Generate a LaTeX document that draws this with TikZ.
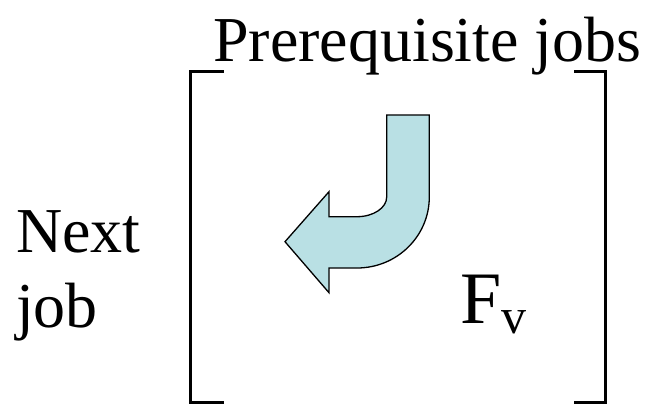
\documentclass[tikz,border=0pt]{standalone}
\usepackage{fontspec}
\setmainfont{Liberation Serif}
\usetikzlibrary{positioning}

\definecolor{arrowfill}{RGB}{185,224,228}

\begin{document}
\begin{tikzpicture}[
    x=1pt, y=-1pt,
    lbl/.style={inner sep=0pt, font=\fontsize{64}{75}\selectfont},
    brk/.style={line width=3pt, line cap=rect},
    bentarrow/.style={draw, line width=1.3pt, fill=arrowfill, line join=miter}
]
\useasboundingbox (0,0) rectangle (646,404);

% labels
\node[lbl, anchor=base west] (prereq) at (213,62) {Prerequisite jobs};
\node[lbl, anchor=base west, align=left] (next) at (16,327) {Next\\job};
\node[lbl, anchor=base west] (fv) at (460,323) {\fontsize{74}{80}\selectfont F\raisebox{-0.3ex}{\fontsize{50}{50}\selectfont v}};

% bracket
\draw[brk] (222,72) -- (190,72) -- (190,402) -- (222,402);
\draw[brk] (575,72) -- (605,72) -- (605,402) -- (575,402);

% bent arrow
\draw[bentarrow] (386.7,115) -- (429.3,115) -- (429.3,197)
    arc[start angle=0, end angle=90, x radius=72.3, y radius=71]
    -- (329,268) -- (329,292.7) -- (285,241.7) -- (329,191.7) -- (329,216.7) -- (357,216.7)
    arc[start angle=90, end angle=0, x radius=29.7, y radius=19.7] -- cycle;
\end{tikzpicture}
\end{document}
